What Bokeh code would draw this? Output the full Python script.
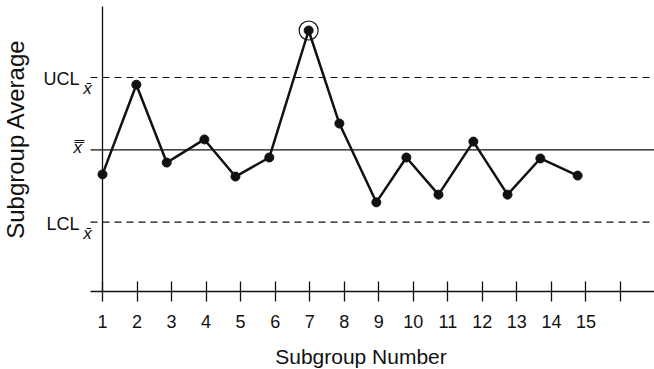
import math
from bokeh.plotting import figure
from bokeh.models import Label, FixedTicker, Range1d, ColumnDataSource, LinearAxis
from bokeh.embed import file_html
from bokeh.resources import INLINE

# ---------------- data ----------------
subgroup_pos = [1, 1.98, 2.86, 3.95, 4.85, 5.83, 6.97, 7.86, 8.93, 9.80,
                10.73, 11.74, 12.73, 13.68, 14.76]
subgroup_avg = [-1.02, 2.70, -0.53, 0.43, -1.11, -0.32, 4.95, 1.09, -2.18,
                -0.32, -1.86, 0.34, -1.86, -0.36, -1.07]
center_line = 0.0
ucl = 3.0
lcl = -3.0
tick_values = list(range(1, 17))
tick_labels = [str(i) for i in range(1, 16)] + [""]

FONT = "Liberation Sans"
INK = "#111111"

# layout constants (data units)
X0, X1 = -1.954, 16.986      # visible x span
Y0, Y1 = -9.116, 6.195       # visible y span
AXIS_Y = -5.88               # where the x axis is drawn
AXIS_X_START = 0.6525        # left end of x axis / control lines
Y_AXIS_TOP = 5.946

out_x = [x for x, y in zip(subgroup_pos, subgroup_avg) if y > ucl or y < lcl]
out_y = [y for y in subgroup_avg if y > ucl or y < lcl]

p = figure(width=654, height=369, output_backend="svg", toolbar_location=None,
           x_range=Range1d(X0, X1), y_range=Range1d(Y0, Y1),
           x_axis_location=None, y_axis_location=None,
           min_border_left=0, min_border_right=0, min_border_top=0, min_border_bottom=0)
p.outline_line_color = None
p.grid.visible = False
p.background_fill_color = "white"
p.border_fill_color = "white"

xax = LinearAxis(fixed_location=AXIS_Y, bounds=(AXIS_X_START, X1))
xax.ticker = FixedTicker(ticks=tick_values)
xax.major_label_overrides = {t: lab for t, lab in zip(tick_values, tick_labels)}
xax.axis_line_width = 1.3
xax.axis_line_color = INK
xax.major_tick_line_width = 1.3
xax.major_tick_line_color = INK
xax.major_tick_in = 10
xax.major_tick_out = 10
xax.minor_tick_in = 0
xax.minor_tick_out = 0
xax.major_label_standoff = 13
xax.major_label_text_font = FONT
xax.major_label_text_font_size = "18px"
xax.major_label_text_color = INK
p.add_layout(xax, "below")

yax = LinearAxis(fixed_location=tick_values[0], bounds=(AXIS_Y, Y_AXIS_TOP))
yax.ticker = FixedTicker(ticks=[])
yax.axis_line_width = 1.3
yax.axis_line_color = INK
yax.major_tick_in = 0
yax.major_tick_out = 0
yax.minor_tick_in = 0
yax.minor_tick_out = 0
yax.major_label_text_font_size = "0px"
p.add_layout(yax, "left")

# control lines
p.segment(x0=[AXIS_X_START], y0=[center_line], x1=[X1], y1=[center_line],
          line_color=INK, line_width=1.3)
p.segment(x0=[AXIS_X_START] * 2, y0=[ucl, lcl], x1=[X1] * 2, y1=[ucl, lcl],
          line_color=INK, line_width=1.2, line_dash="7 5")

src = ColumnDataSource(dict(x=subgroup_pos, y=subgroup_avg))
p.line("x", "y", source=src, line_color=INK, line_width=2.5)
p.scatter("x", "y", source=src, size=9, fill_color=INK, line_color=INK)
p.scatter(out_x, out_y, size=19, fill_color=None, line_color=INK, line_width=1.2)

def lab(x, y, text, size, **kw):
    p.add_layout(Label(x=x, y=y, text=text, text_font=FONT, text_font_size=size,
                       text_color=INK, **kw))

lab(0.334, 2.958, "UCL", "18px", text_align="right", text_baseline="alphabetic")
lab(0.440, 2.544, "x\u0304", "17px", text_align="left", text_baseline="alphabetic",
    text_font_style="italic")
lab(0.160, 0.095, "x\u033f", "17px", text_align="left", text_baseline="alphabetic",
    text_font_style="italic")
lab(0.334, -3.07, "LCL", "18px", text_align="right", text_baseline="alphabetic")
lab(0.440, -3.47, "x\u0304", "17px", text_align="left", text_baseline="alphabetic",
    text_font_style="italic")

lab(-1.534, 0.45, "Subgroup Average", "24px", text_align="center",
    text_baseline="middle", angle=math.pi / 2)
lab(8.486, -8.577, "Subgroup Number", "21px", text_align="center",
    text_baseline="alphabetic")

open("out.html", "w").write(file_html(p, INLINE))
